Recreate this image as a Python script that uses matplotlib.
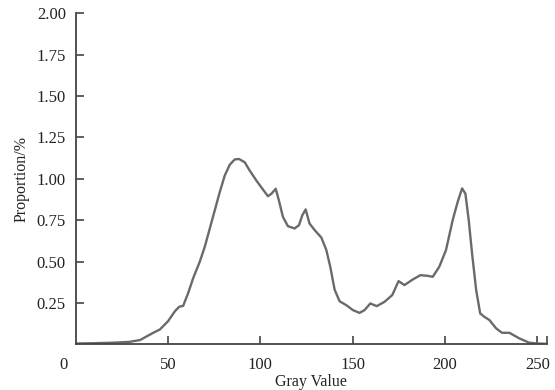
import matplotlib
matplotlib.use("Agg")
import matplotlib.pyplot as plt
import matplotlib.transforms as mtransforms

plt.rcParams['font.family'] = ['Liberation Serif', 'DejaVu Serif']

# gray level histogram
gray = [0, 10, 20, 29, 34.8, 42, 45.6, 50, 53.7, 56, 58.2, 60.9, 63.6, 67.2, 69.9,
        72.6, 75.3, 78, 80.7, 83.4, 86.1, 88.4, 91.5, 94.2, 97.8, 101.4, 104.1,
        106, 108.3, 110, 112.2, 114.9, 118.5, 120.9, 122.7, 124.5, 126.6, 129.4,
        133, 135.7, 137.8, 140.2, 142.9, 146.5, 150.1, 153.7, 156.4, 159.5, 163,
        167.2, 171.4, 174.8, 178, 182.5, 186.6, 190.6, 193.3, 196.9, 200.5, 204.1,
        206.8, 209.2, 211, 212.8, 214.6, 216.8, 219, 221.2, 224, 227.6, 230.8,
        234.8, 240.2, 245.6, 250, 255]
prop = [0.005, 0.007, 0.01, 0.015, 0.026, 0.07, 0.09, 0.14, 0.20, 0.227, 0.233,
        0.31, 0.40, 0.50, 0.59, 0.70, 0.81, 0.92, 1.02, 1.085, 1.117, 1.12, 1.10,
        1.05, 0.99, 0.935, 0.895, 0.91, 0.94, 0.87, 0.77, 0.714, 0.70, 0.72, 0.78,
        0.815, 0.73, 0.69, 0.645, 0.57, 0.47, 0.33, 0.26, 0.237, 0.207, 0.19,
        0.207, 0.247, 0.231, 0.257, 0.298, 0.382, 0.358, 0.392, 0.418, 0.414,
        0.408, 0.47, 0.57, 0.75, 0.86, 0.942, 0.91, 0.75, 0.55, 0.33, 0.187,
        0.167, 0.147, 0.097, 0.07, 0.07, 0.036, 0.01, 0.005, 0.003]

xticks = [50, 100, 150, 200, 250]
yticks = [0.25, 0.50, 0.75, 1.00, 1.25, 1.50, 1.75, 2.00]

fig = plt.figure(figsize=(5.55, 3.9), dpi=100)
ax = fig.add_axes([0.1364, 0.117, 0.985 - 0.1364, 0.966 - 0.117])

ax.plot(gray, prop, color='#6a6a6a', lw=1.7, solid_joinstyle='round')

ax.set_xlim(0, 255)
ax.set_ylim(0, 2.0)
ax.set_xticks([0] + xticks)
ax.set_xticklabels(['0'] + [str(t) for t in xticks])
ax.set_xticks([255], minor=True)
ax.set_yticks(yticks)
ax.set_yticklabels(['%.2f' % t for t in yticks])

for s in ['top', 'right']:
    ax.spines[s].set_visible(False)
for s in ['left', 'bottom']:
    ax.spines[s].set_color('#444444')
    ax.spines[s].set_linewidth(1.3)

ax.tick_params(axis='both', which='both', direction='in', length=6, width=1.2,
               color='#444444', labelsize=12, labelcolor='#222222')
ax.tick_params(axis='y', pad=7)
ax.tick_params(axis='x', pad=9)
# no inner tick at the origin
ax.xaxis.get_major_ticks()[0].tick1line.set_visible(False)

# move the "0" label to the left of the corner
lab0 = ax.get_xticklabels()[0]
off = mtransforms.ScaledTranslation(-9 / 72, 0, fig.dpi_scale_trans)
lab0.set_transform(lab0.get_transform() + off)

ax.set_xlabel('Gray Value', fontsize=11.5, color='#222222', labelpad=1)
ax.set_ylabel('Proportion/%', fontsize=11.5, color='#222222', labelpad=5)

fig.savefig('out.png', dpi=100)
